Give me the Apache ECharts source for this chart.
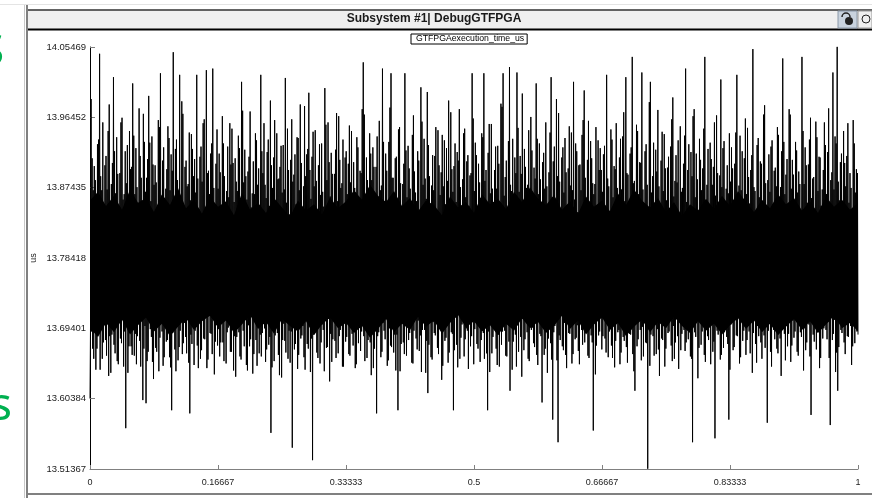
<!DOCTYPE html>
<html>
<head>
<meta charset="utf-8">
<script src="https://cdn.jsdelivr.net/npm/echarts@6/dist/echarts.min.js"></script>
<style>
html, body { margin: 0; padding: 0; background: #fff; }
#chart { width: 872px; height: 498px; }
</style>
</head>
<body>
<div id="chart"></div>
<script>
// 坐标轴刻度
var yTicks = [13.51367, 13.60384, 13.69401, 13.78418, 13.87435, 13.96452, 14.05469]
var xTicks = [0, 0.16667, 0.33333, 0.5, 0.66667, 0.83333, 1]

// GTFPGAexecution_time_us (us), one array per sixth of the time axis
var seg1 = [
  13.604, 13.702, 13.988, 13.690, 13.871, 13.655, 13.902, 13.712, 13.845, 13.668, 13.930, 13.694, 14.046, 13.641, 13.889, 13.721, 13.958, 13.676, 13.836, 13.700,
  13.915, 13.659, 13.872, 13.728, 13.981, 13.684, 13.851, 13.637, 13.906, 13.711, 14.016, 13.673, 13.867, 13.698, 13.939, 13.652, 13.848, 13.716, 13.893, 13.681,
  13.964, 13.706, 13.859, 13.645, 13.921, 13.566, 13.880, 13.719, 13.834, 13.671, 13.947, 13.693, 13.901, 13.660, 14.008, 13.725, 13.866, 13.687, 13.925, 13.648,
  13.853, 13.709, 13.976, 13.678, 13.887, 13.720, 13.842, 13.602, 13.933, 13.697, 13.869, 13.598, 13.911, 13.664, 13.992, 13.714, 13.857, 13.683, 13.940, 13.651,
  13.878, 13.722, 13.903, 13.669, 13.845, 13.703, 13.961, 13.639, 14.021, 13.715, 13.864, 13.690, 13.926, 13.657, 13.839, 13.726, 13.898, 13.679, 13.953, 13.706,
  13.871, 13.644, 13.917, 13.589, 14.048, 13.700, 13.850, 13.667, 13.936, 13.718, 13.884, 13.653, 14.019, 13.691, 13.862, 13.712, 13.969, 13.675, 13.843, 13.701,
  13.909, 13.662, 13.876, 13.724, 13.945, 13.585, 13.858, 13.686, 13.924, 13.708, 13.889, 13.647, 13.868, 13.696, 14.019, 13.672, 13.847, 13.717, 13.914, 13.655,
  13.882, 13.705, 13.957, 13.681, 13.838, 13.720, 14.025, 13.643, 13.896, 13.710, 13.866, 13.688, 13.931, 13.661, 14.027, 13.714, 13.852, 13.677, 13.905, 13.699
]
var seg2 = [
  13.873, 13.693, 13.918, 13.658, 13.847, 13.718, 13.966, 13.676, 13.889, 13.707, 13.841, 13.649, 13.927, 13.695, 13.862, 13.723, 13.904, 13.664, 13.950, 13.701,
  13.856, 13.684, 13.912, 13.632, 13.870, 13.716, 13.941, 13.689, 13.837, 13.654, 14.010, 13.709, 13.881, 13.671, 13.923, 13.727, 13.859, 13.640, 13.895, 13.698,
  13.972, 13.680, 13.849, 13.713, 13.908, 13.661, 13.866, 13.704, 13.935, 13.646, 13.878, 13.721, 13.843, 13.686, 14.019, 13.658, 13.893, 13.712, 13.957, 13.694,
  13.861, 13.667, 13.920, 13.725, 13.851, 13.683, 13.986, 13.560, 13.874, 13.706, 13.913, 13.652, 13.838, 13.719, 13.944, 13.688, 13.886, 13.634, 13.901, 13.710,
  13.868, 13.679, 13.929, 13.700, 14.015, 13.663, 13.855, 13.722, 13.897, 13.691, 13.840, 13.650, 13.962, 13.541, 13.882, 13.715, 13.917, 13.674, 13.853, 13.703,
  13.938, 13.660, 13.871, 13.726, 13.906, 13.685, 13.845, 13.697, 13.979, 13.641, 13.889, 13.711, 13.924, 13.668, 13.996, 13.702, 13.860, 13.681, 13.914, 13.525,
  13.876, 13.717, 13.948, 13.690, 13.842, 13.656, 13.903, 13.724, 13.865, 13.676, 13.931, 13.699, 13.850, 13.639, 14.002, 13.713, 13.884, 13.670, 13.958, 13.706,
  13.863, 13.687, 13.919, 13.651, 13.837, 13.720, 13.892, 13.678, 13.970, 13.708, 13.857, 13.662, 13.910, 13.692, 13.874, 13.725, 13.936, 13.645, 13.848, 13.701
]
var seg3 = [
  13.921, 13.683, 13.866, 13.714, 13.954, 13.659, 13.881, 13.700, 13.845, 13.672, 13.907, 13.728, 13.868, 13.648, 13.939, 13.695, 13.852, 13.711, 13.896, 13.665,
  13.975, 13.703, 14.035, 13.684, 13.859, 13.720, 13.913, 13.656, 13.840, 13.697, 13.944, 13.676, 13.884, 13.715, 13.926, 13.643, 13.863, 13.707, 13.901, 13.585,
  13.848, 13.689, 13.960, 13.723, 13.877, 13.664, 14.027, 13.701, 13.855, 13.680, 13.918, 13.717, 13.843, 13.653, 13.933, 13.694, 14.021, 13.670, 13.887, 13.712,
  13.866, 13.686, 13.912, 13.640, 13.851, 13.589, 13.949, 13.706, 13.880, 13.674, 13.839, 13.722, 13.905, 13.661, 14.021, 13.698, 13.862, 13.716, 13.928, 13.679,
  13.873, 13.709, 13.846, 13.650, 13.967, 13.691, 13.895, 13.727, 13.857, 13.667, 13.921, 13.704, 13.842, 13.685, 14.003, 13.638, 13.878, 13.713, 13.937, 13.692,
  13.860, 13.678, 13.997, 13.611, 13.889, 13.719, 13.849, 13.657, 13.916, 13.702, 13.871, 13.688, 13.952, 13.724, 13.838, 13.669, 13.903, 13.696, 13.865, 13.710,
  13.942, 13.646, 13.876, 13.717, 13.853, 13.682, 13.925, 13.703, 13.986, 13.663, 13.847, 13.726, 13.898, 13.687, 13.869, 13.589, 13.931, 13.708, 13.856, 13.673,
  13.909, 13.715, 13.975, 13.655, 13.843, 13.699, 13.885, 13.721, 13.950, 13.680, 13.862, 13.694, 13.916, 13.642, 13.851, 13.711, 13.893, 13.684, 14.021, 13.705
]
var seg4 = [
  13.870, 13.693, 13.932, 13.716, 13.848, 13.668, 13.905, 13.702, 13.861, 13.679, 13.944, 13.721, 14.021, 13.655, 13.883, 13.707, 13.851, 13.589, 13.919, 13.690,
  13.867, 13.725, 13.956, 13.662, 13.842, 13.699, 13.897, 13.714, 13.873, 13.647, 13.928, 13.686, 13.856, 13.719, 13.982, 13.673, 14.021, 13.704, 13.864, 13.691,
  13.909, 13.658, 13.846, 13.723, 14.029, 13.614, 13.878, 13.700, 13.937, 13.677, 13.853, 13.716, 13.893, 13.645, 14.022, 13.698, 13.869, 13.712, 13.915, 13.683,
  13.995, 13.706, 13.840, 13.666, 13.901, 13.721, 13.874, 13.689, 13.948, 13.652, 13.858, 13.714, 13.922, 13.695, 13.845, 13.675, 13.886, 13.709, 14.008, 13.660,
  13.866, 13.718, 13.931, 13.687, 13.851, 13.599, 13.907, 13.703, 13.873, 13.668, 13.958, 13.726, 13.840, 13.681, 13.894, 13.713, 14.016, 13.654, 13.862, 13.577,
  13.927, 13.697, 13.855, 13.720, 13.889, 13.548, 13.970, 13.685, 13.847, 13.710, 13.913, 13.671, 13.868, 13.701, 13.938, 13.660, 13.852, 13.724, 13.899, 13.688,
  13.877, 13.706, 13.945, 13.649, 14.010, 13.717, 13.859, 13.680, 13.921, 13.698, 13.843, 13.665, 13.904, 13.727, 13.871, 13.692, 13.961, 13.708, 13.999, 13.676,
  13.856, 13.713, 13.910, 13.659, 13.848, 13.700, 13.934, 13.685, 13.880, 13.563, 13.866, 13.719, 13.952, 13.672, 13.844, 13.705, 13.897, 13.690, 13.925, 13.716
]
var seg5 = [
  13.869, 13.684, 13.917, 13.707, 13.851, 13.663, 14.019, 13.718, 13.876, 13.690, 13.842, 13.724, 13.936, 13.656, 13.862, 13.701, 13.898, 13.678, 13.957, 13.712,
  13.848, 13.692, 13.913, 13.648, 13.872, 13.720, 13.940, 13.683, 13.857, 13.706, 14.016, 13.670, 13.891, 13.715, 13.845, 13.687, 13.926, 13.699, 14.042, 13.661,
  13.883, 13.614, 13.859, 13.722, 13.947, 13.680, 13.866, 13.709, 13.906, 13.653, 14.022, 13.696, 13.850, 13.719, 13.921, 13.676, 13.878, 13.514, 13.840, 13.704,
  14.010, 13.686, 13.868, 13.726, 13.932, 13.659, 13.853, 13.711, 13.895, 13.693, 13.974, 13.667, 13.844, 13.717, 13.909, 13.681, 13.870, 13.702, 13.943, 13.645,
  13.858, 13.721, 13.900, 13.688, 13.847, 13.710, 13.927, 13.672, 13.990, 13.697, 13.863, 13.655, 13.916, 13.723, 13.881, 13.684, 13.841, 13.707, 13.953, 13.666,
  13.874, 13.714, 13.905, 13.692, 14.027, 13.676, 13.856, 13.719, 13.930, 13.700, 13.849, 13.658, 13.889, 13.548, 13.966, 13.708, 13.862, 13.683, 13.918, 13.725,
  13.845, 13.669, 13.937, 13.703, 13.871, 13.690, 13.899, 13.716, 14.042, 13.651, 13.857, 13.712, 13.924, 13.679, 13.846, 13.698, 13.911, 13.721, 13.878, 13.664,
  13.958, 13.553, 13.864, 13.706, 13.893, 13.686, 13.839, 13.718, 14.013, 13.660, 13.875, 13.701, 13.934, 13.689, 13.852, 13.714, 13.903, 13.674, 13.867, 13.577
]
var seg6 = [
  13.882, 13.699, 13.926, 13.715, 13.848, 13.670, 13.905, 13.708, 14.019, 13.684, 13.860, 13.722, 13.941, 13.657, 13.871, 13.703, 13.843, 13.691, 13.912, 13.718,
  13.866, 13.679, 13.951, 13.705, 13.854, 13.662, 13.897, 13.720, 14.052, 13.688, 13.875, 13.711, 13.839, 13.650, 13.929, 13.697, 13.862, 13.724, 13.908, 13.676,
  13.850, 13.709, 13.968, 13.685, 13.880, 13.717, 13.844, 13.573, 13.917, 13.701, 13.869, 13.664, 13.935, 13.714, 13.853, 13.692, 13.900, 13.726, 13.876, 13.668,
  13.942, 13.706, 13.857, 13.681, 13.921, 13.719, 14.040, 13.695, 13.866, 13.653, 13.891, 13.710, 13.846, 13.687, 13.975, 13.722, 13.873, 13.672, 13.910, 13.704,
  13.852, 13.690, 13.933, 13.716, 13.868, 13.659, 13.895, 13.707, 13.841, 13.683, 14.042, 13.725, 13.879, 13.694, 13.926, 13.666, 13.855, 13.712, 13.904, 13.699,
  13.964, 13.583, 13.861, 13.718, 13.888, 13.677, 13.847, 13.703, 13.939, 13.689, 13.870, 13.721, 13.913, 13.656, 13.851, 13.708, 13.897, 13.694, 13.958, 13.715,
  13.866, 13.680, 13.920, 13.702, 13.843, 13.570, 13.884, 13.719, 14.022, 13.687, 13.872, 13.705, 13.931, 13.663, 14.055, 13.614, 13.858, 13.711, 13.907, 13.692,
  13.849, 13.723, 13.947, 13.676, 13.876, 13.708, 13.915, 13.684, 13.855, 13.717, 13.893, 13.697, 13.840, 13.671, 13.961, 13.713, 13.868, 13.702, 13.898, 13.690
]

// in-between samples: one extra (peak, trough) pair after every two pairs above
var seg1b = [
  13.912, 13.668, 13.884, 13.641, 13.936, 13.692, 13.871, 13.655, 13.903, 13.679,
  13.947, 13.633, 13.879, 13.686, 13.921, 13.662, 13.892, 13.648, 13.958, 13.675,
  13.866, 13.690, 13.929, 13.637, 13.898, 13.671, 13.941, 13.659, 13.875, 13.684,
  13.915, 13.645, 13.969, 13.668, 13.887, 13.652, 13.932, 13.693, 13.904, 13.629,
  13.881, 13.664, 13.952, 13.682, 13.909, 13.646, 13.873, 13.677, 13.938, 13.657,
  13.896, 13.688, 13.924, 13.639, 13.869, 13.670, 13.985, 13.661, 13.901, 13.683,
  13.879, 13.650, 13.943, 13.674, 13.911, 13.691, 13.886, 13.643, 13.927, 13.666,
  13.962, 13.680, 13.893, 13.654, 13.918, 13.687, 13.874, 13.635, 13.949, 13.672
]
var seg2b = [
  13.894, 13.676, 13.931, 13.652, 13.870, 13.689, 13.957, 13.664, 13.906, 13.640,
  13.882, 13.683, 13.925, 13.658, 13.973, 13.691, 13.889, 13.647, 13.914, 13.671,
  13.867, 13.636, 13.944, 13.679, 13.899, 13.662, 13.921, 13.688, 13.878, 13.651,
  13.936, 13.673, 13.903, 13.644, 13.961, 13.685, 13.885, 13.660, 13.928, 13.631,
  13.872, 13.678, 13.950, 13.655, 13.910, 13.690, 13.891, 13.667, 13.939, 13.642,
  13.981, 13.681, 13.876, 13.657, 13.917, 13.674, 13.897, 13.638, 13.946, 13.686,
  13.883, 13.663, 13.930, 13.649, 13.869, 13.692, 13.955, 13.669, 13.907, 13.626,
  13.892, 13.680, 13.923, 13.656, 13.966, 13.684, 13.880, 13.645, 13.913, 13.677
]
var seg3b = [
  13.905, 13.661, 13.947, 13.687, 13.874, 13.643, 13.926, 13.675, 13.893, 13.690,
  13.968, 13.652, 13.884, 13.679, 13.918, 13.634, 13.901, 13.668, 13.940, 13.684,
  13.871, 13.657, 13.933, 13.691, 13.896, 13.646, 13.977, 13.672, 13.887, 13.663,
  13.914, 13.686, 13.952, 13.639, 13.879, 13.676, 13.922, 13.659, 13.899, 13.688,
  13.942, 13.649, 13.868, 13.681, 13.909, 13.665, 13.959, 13.692, 13.886, 13.637,
  13.929, 13.673, 13.877, 13.654, 13.915, 13.685, 13.948, 13.661, 13.894, 13.628,
  13.935, 13.678, 13.883, 13.650, 13.971, 13.689, 13.902, 13.666, 13.920, 13.644,
  13.875, 13.682, 13.944, 13.658, 13.908, 13.691, 13.890, 13.671, 13.963, 13.648
]
var seg4b = [
  13.916, 13.674, 13.881, 13.651, 13.939, 13.688, 13.897, 13.662, 13.956, 13.638,
  13.873, 13.683, 13.927, 13.668, 13.905, 13.645, 13.978, 13.690, 13.888, 13.659,
  13.934, 13.677, 13.870, 13.641, 13.913, 13.686, 13.951, 13.664, 13.892, 13.632,
  13.924, 13.680, 13.878, 13.655, 13.965, 13.692, 13.900, 13.670, 13.937, 13.647,
  13.885, 13.684, 13.919, 13.660, 13.876, 13.637, 13.945, 13.675, 13.908, 13.689,
  13.988, 13.653, 13.882, 13.679, 13.926, 13.666, 13.894, 13.643, 13.953, 13.687,
  13.871, 13.661, 13.931, 13.682, 13.903, 13.648, 13.942, 13.673, 13.887, 13.690,
  13.960, 13.656, 13.912, 13.676, 13.879, 13.635, 13.935, 13.685, 13.897, 13.667
]
var seg5b = [
  13.928, 13.681, 13.886, 13.657, 13.949, 13.672, 13.902, 13.644, 13.874, 13.689,
  13.937, 13.663, 13.971, 13.678, 13.893, 13.650, 13.918, 13.686, 13.880, 13.639,
  13.955, 13.671, 13.907, 13.692, 13.872, 13.658, 13.930, 13.675, 13.984, 13.646,
  13.889, 13.684, 13.923, 13.661, 13.876, 13.633, 13.946, 13.679, 13.899, 13.668,
  13.914, 13.690, 13.962, 13.652, 13.883, 13.676, 13.935, 13.642, 13.869, 13.687,
  13.941, 13.665, 13.897, 13.680, 13.920, 13.655, 13.975, 13.689, 13.885, 13.630,
  13.910, 13.673, 13.950, 13.660, 13.878, 13.684, 13.932, 13.648, 13.901, 13.677,
  13.967, 13.691, 13.890, 13.654, 13.925, 13.669, 13.873, 13.683, 13.944, 13.641
]
var seg6b = [
  13.899, 13.666, 13.945, 13.685, 13.877, 13.649, 13.921, 13.678, 13.963, 13.660,
  13.888, 13.690, 13.916, 13.637, 13.870, 13.674, 13.938, 13.684, 13.905, 13.655,
  13.980, 13.669, 13.884, 13.691, 13.927, 13.645, 13.896, 13.680, 13.952, 13.662,
  13.875, 13.633, 13.933, 13.687, 13.911, 13.671, 13.968, 13.651, 13.891, 13.682,
  13.922, 13.664, 13.879, 13.689, 13.947, 13.640, 13.903, 13.676, 13.936, 13.658,
  13.886, 13.686, 13.959, 13.667, 13.914, 13.643, 13.872, 13.681, 13.929, 13.692,
  13.976, 13.656, 13.894, 13.679, 13.940, 13.638, 13.882, 13.670, 13.918, 13.688,
  13.906, 13.661, 13.957, 13.683, 13.874, 13.647, 13.931, 13.675, 13.893, 13.686
]

// edges of the solid black core of the trace, every 1/96 of the time axis
var coreTop = [
  13.858, 13.869, 13.851, 13.864, 13.846, 13.872, 13.855, 13.861, 13.843, 13.866,
  13.852, 13.874, 13.848, 13.859, 13.841, 13.863, 13.850, 13.857, 13.839, 13.868,
  13.846, 13.855, 13.842, 13.861, 13.849, 13.837, 13.858, 13.845, 13.853, 13.840,
  13.862, 13.848, 13.857, 13.871, 13.859, 13.878, 13.864, 13.856, 13.870, 13.851,
  13.861, 13.844, 13.858, 13.852, 13.839, 13.863, 13.849, 13.856, 13.842, 13.866,
  13.853, 13.860, 13.847, 13.869, 13.856, 13.875, 13.860, 13.852, 13.865, 13.846,
  13.857, 13.841, 13.863, 13.850, 13.858, 13.844, 13.867, 13.852, 13.872, 13.858,
  13.849, 13.861, 13.843, 13.856, 13.838, 13.853, 13.845, 13.860, 13.847, 13.864,
  13.851, 13.870, 13.856, 13.843, 13.859, 13.848, 13.866, 13.853, 13.861, 13.845,
  13.857, 13.842, 13.863, 13.850, 13.859, 13.846, 13.855
]
var coreBottom = [
  13.694, 13.683, 13.701, 13.689, 13.705, 13.686, 13.698, 13.708, 13.690, 13.700,
  13.684, 13.696, 13.707, 13.692, 13.703, 13.710, 13.695, 13.704, 13.688, 13.699,
  13.711, 13.693, 13.702, 13.687, 13.706, 13.697, 13.690, 13.703, 13.685, 13.699,
  13.708, 13.694, 13.701, 13.688, 13.697, 13.682, 13.693, 13.706, 13.689, 13.700,
  13.692, 13.709, 13.696, 13.704, 13.687, 13.701, 13.711, 13.695, 13.703, 13.690,
  13.698, 13.685, 13.700, 13.691, 13.707, 13.694, 13.702, 13.688, 13.697, 13.710,
  13.693, 13.704, 13.686, 13.699, 13.708, 13.692, 13.701, 13.684, 13.696, 13.705,
  13.689, 13.702, 13.694, 13.709, 13.697, 13.688, 13.703, 13.691, 13.700, 13.686,
  13.698, 13.707, 13.693, 13.704, 13.689, 13.700, 13.685, 13.696, 13.706, 13.692,
  13.703, 13.688, 13.699, 13.710, 13.694, 13.701, 13.690
]

// 两组采样按时间顺序合并：每两对原始峰谷之后接一对补充峰谷
function weave(main, extra) {
  var out = []
  for (var k = 0; k < extra.length / 2; k++) {
    out.push(main[4 * k], main[4 * k + 1], main[4 * k + 2], main[4 * k + 3], extra[2 * k], extra[2 * k + 1])
  }
  return out
}

var samples = [].concat(
  weave(seg1, seg1b), weave(seg2, seg2b), weave(seg3, seg3b),
  weave(seg4, seg4b), weave(seg5, seg5b), weave(seg6, seg6b)
)
// samples are evenly spaced over the 0..1 time axis
var seriesData = samples.map(function (v, i) {
  return [i / (samples.length - 1), v]
})

// 黑色核心带：上沿 + 反向下沿 组成多边形
function renderCore(params, api) {
  var pts = []
  var n = coreTop.length - 1
  for (var i = 0; i <= n; i++) {
    pts.push(api.coord([i / n, coreTop[i]]))
  }
  for (var j = n; j >= 0; j--) {
    pts.push(api.coord([j / n, coreBottom[j]]))
  }
  return {
    type: 'polygon',
    shape: { points: pts },
    style: { fill: '#000' }
  }
}

var myChart = echarts.init(document.getElementById('chart'))
var option = {
  animation: false,
  backgroundColor: '#fff',
  textStyle: { fontFamily: 'Liberation Sans, Arial, sans-serif' },
  grid: { left: 90, right: 14, top: 47, bottom: 29 },
  legend: {
    data: ['GTFPGAexecution_time_us'],
    left: 411,
    top: 34,
    icon: 'rect',
    itemWidth: 0,
    itemHeight: 0,
    padding: [0, 3, 0, 0],
    borderColor: '#000',
    borderWidth: 1,
    borderRadius: 0,
    textStyle: { fontSize: 8.7, color: '#000', lineHeight: 10 }
  },
  xAxis: {
    type: 'value',
    min: 0,
    max: 1,
    splitLine: { show: false },
    axisLine: { lineStyle: { color: '#808080', width: 1 } },
    axisTick: { inside: true, length: 4, lineStyle: { color: '#808080' }, customValues: xTicks },
    axisLabel: {
      customValues: xTicks,
      formatter: function (v) { return String(v) },
      fontSize: 9,
      color: '#222',
      margin: 9
    }
  },
  yAxis: {
    type: 'value',
    min: yTicks[0],
    max: yTicks[yTicks.length - 1],
    name: 'us',
    nameLocation: 'middle',
    nameGap: 52,
    nameMoveOverlap: false,
    nameTextStyle: { fontSize: 9, color: '#222' },
    splitLine: { show: false },
    axisLine: { show: true, lineStyle: { color: '#000', width: 1 } },
    axisTick: { show: true, inside: true, length: 5, lineStyle: { color: '#808080' }, customValues: yTicks },
    axisLabel: {
      customValues: yTicks,
      formatter: function (v) { return v.toFixed(5) },
      fontSize: 9.5,
      color: '#222',
      margin: 4
    }
  },
  series: [
    {
      name: 'core',
      type: 'custom',
      silent: true,
      data: [[0, coreBottom[0]]],
      renderItem: renderCore
    },
    {
      name: 'GTFPGAexecution_time_us',
      type: 'line',
      data: seriesData,
      showSymbol: false,
      symbol: 'none',
      sampling: false,
      lineStyle: { color: '#000', width: 1 },
      itemStyle: { color: '#000' }
    }
  ],
  graphic: [
    // 窗口边框
    { type: 'line', shape: { x1: 0, y1: 4.5, x2: 872, y2: 4.5 }, style: { stroke: '#e4e4e4', lineWidth: 1 } },
    { type: 'line', shape: { x1: 24.5, y1: 5, x2: 24.5, y2: 498 }, style: { stroke: '#c8c8c8', lineWidth: 1 } },
    { type: 'line', shape: { x1: 27, y1: 5, x2: 27, y2: 498 }, style: { stroke: '#808080', lineWidth: 2 } },
    { type: 'line', shape: { x1: 26, y1: 494, x2: 872, y2: 494 }, style: { stroke: '#808080', lineWidth: 2 } },
    { type: 'rect', shape: { x: 28, y: 10, width: 844, height: 19 }, style: { fill: '#efefef' } },
    { type: 'line', shape: { x1: 28, y1: 10, x2: 872, y2: 10 }, style: { stroke: '#303030', lineWidth: 1.5 } },
    { type: 'line', shape: { x1: 28, y1: 29.5, x2: 872, y2: 29.5 }, style: { stroke: '#000', lineWidth: 2 } },
    {
      type: 'text', x: 434, y: 19,
      style: { text: 'Subsystem #1| DebugGTFPGA', font: 'bold 12px Liberation Sans, Arial, sans-serif', fill: '#1a1a1a', textAlign: 'center', textVerticalAlign: 'middle' }
    },
    // 右上角按钮
    { type: 'rect', shape: { x: 838, y: 11, width: 19, height: 17 }, style: { fill: '#c9d3de', stroke: '#8a98a8', lineWidth: 1 } },
    { type: 'circle', shape: { cx: 849, cy: 21, r: 4 }, style: { fill: '#222' } },
    { type: 'arc', shape: { cx: 846, cy: 17, r: 4, startAngle: Math.PI, endAngle: 0 }, style: { stroke: '#222', lineWidth: 1.5, fill: null } },
    { type: 'rect', shape: { x: 858, y: 11, width: 14, height: 17 }, style: { fill: '#efefef', stroke: '#9a9a9a', lineWidth: 1 } },
    { type: 'circle', shape: { cx: 866, cy: 19, r: 4 }, style: { fill: null, stroke: '#222', lineWidth: 1 } },
    // 左侧幻灯片残留文字
    { type: 'text', x: -20, y: 30, style: { text: 'S', font: '44px Noto Sans, sans-serif', fill: '#00b050' } },
    { type: 'text', x: -10, y: 384, style: { text: 's', font: '46px Noto Sans, sans-serif', fill: '#00b050' } }
  ]
}
myChart.setOption(option)
</script>
</body>
</html>
